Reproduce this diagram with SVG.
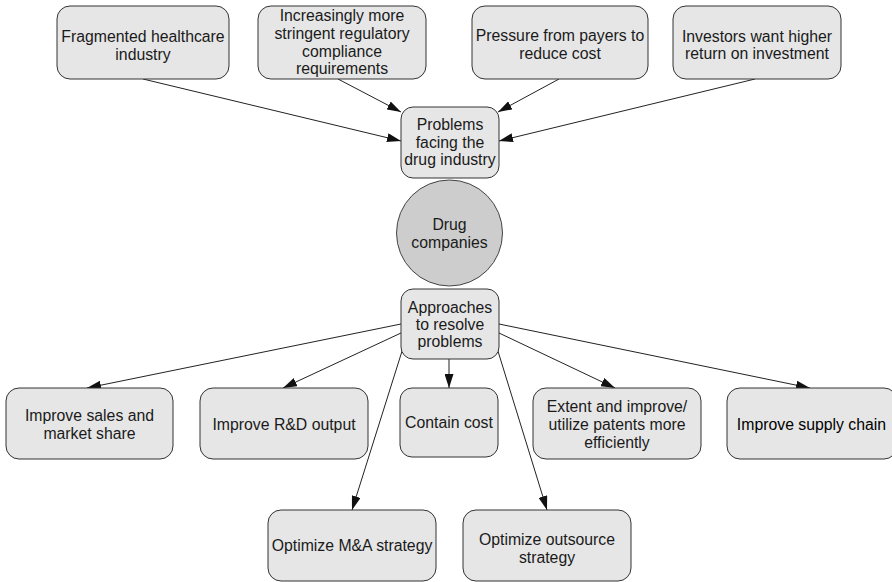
<svg xmlns="http://www.w3.org/2000/svg" width="892" height="582" viewBox="0 0 892 582">
  <defs>
    <marker id="arrow" viewBox="0 0 14 9" refX="14" refY="4.5" markerWidth="14" markerHeight="9" markerUnits="userSpaceOnUse" orient="auto">
      <path d="M0,0 L14,4.5 L0,9 Z" fill="#111"/>
    </marker>
    <style>
      .box { fill: #e6e6e6; stroke: #333; stroke-width: 1; }
      .hub { fill: #cdcdcd; stroke: #444; stroke-width: 1; }
      .lbl { font-family: "Liberation Sans", Arial, sans-serif; font-size: 15.8px; fill: #1a1a1a; text-anchor: middle; }
      .edge { fill: none; stroke: #222; stroke-width: 1; marker-end: url(#arrow); }
    </style>
  </defs>
  <rect width="892" height="582" fill="#ffffff"/>

  <!-- connectors -->
  <g id="connectors">
    <path class="edge" d="M143,79 L401,141"/>
    <path class="edge" d="M338,79 L401,112"/>
    <path class="edge" d="M559,79 L498,112"/>
    <path class="edge" d="M755,79 L499,141"/>
    <path class="edge" d="M401,324 L87,388"/>
    <path class="edge" d="M401,333 L283,388"/>
    <path class="edge" d="M403,348 L352,510"/>
    <path class="edge" d="M449,359 L449,388"/>
    <path class="edge" d="M497,348 L547,510"/>
    <path class="edge" d="M499,333 L615,388"/>
    <path class="edge" d="M499,324 L810,388"/>
  </g>

  <!-- cause nodes -->
  <g id="fragmented">
    <rect class="box" x="57" y="6" width="172" height="73" rx="13"/>
    <text class="lbl" x="143" y="41.5">Fragmented healthcare</text>
    <text class="lbl" x="143" y="60">industry</text>
  </g>
  <g id="regulatory">
    <rect class="box" x="258" y="6" width="168" height="73" rx="13"/>
    <text class="lbl" x="342" y="21">Increasingly more</text>
    <text class="lbl" x="342" y="38.5">stringent regulatory</text>
    <text class="lbl" x="342" y="56.5">compliance</text>
    <text class="lbl" x="342" y="73.5">requirements</text>
  </g>
  <g id="payers">
    <rect class="box" x="472" y="6" width="176" height="73" rx="13"/>
    <text class="lbl" x="560" y="40.5">Pressure from payers to</text>
    <text class="lbl" x="560" y="58.5">reduce cost</text>
  </g>
  <g id="investors">
    <rect class="box" x="673" y="6" width="168" height="73" rx="13"/>
    <text class="lbl" x="757" y="41.5">Investors want higher</text>
    <text class="lbl" x="757" y="59">return on investment</text>
  </g>

  <!-- central column -->
  <g id="problems">
    <rect class="box" x="401" y="107" width="98" height="71" rx="12"/>
    <text class="lbl" x="450" y="130">Problems</text>
    <text class="lbl" x="450" y="147.5">facing the</text>
    <text class="lbl" x="450" y="165">drug industry</text>
  </g>
  <g id="companies">
    <circle class="hub" cx="449.5" cy="233" r="53"/>
    <text class="lbl" x="449.5" y="230">Drug</text>
    <text class="lbl" x="449.5" y="247.5">companies</text>
  </g>
  <g id="approaches">
    <rect class="box" x="401" y="289" width="98" height="70" rx="12"/>
    <text class="lbl" x="450" y="313">Approaches</text>
    <text class="lbl" x="450" y="330">to resolve</text>
    <text class="lbl" x="450" y="347">problems</text>
  </g>

  <!-- approach nodes -->
  <g id="sales">
    <rect class="box" x="6" y="388" width="167" height="71" rx="13"/>
    <text class="lbl" x="89.5" y="421">Improve sales and</text>
    <text class="lbl" x="89.5" y="439">market share</text>
  </g>
  <g id="rnd">
    <rect class="box" x="200" y="388" width="168" height="71" rx="13"/>
    <text class="lbl" x="284" y="429.5">Improve R&amp;D output</text>
  </g>
  <g id="cost">
    <rect class="box" x="400" y="388" width="98" height="69" rx="12"/>
    <text class="lbl" x="449" y="427.5">Contain cost</text>
  </g>
  <g id="patents">
    <rect class="box" x="533" y="388" width="168" height="71" rx="13"/>
    <text class="lbl" x="617" y="412">Extent and improve/</text>
    <text class="lbl" x="617" y="430">utilize patents more</text>
    <text class="lbl" x="617" y="448">efficiently</text>
  </g>
  <g id="supply">
    <rect class="box" x="727" y="388" width="170" height="71" rx="13"/>
    <text class="lbl" x="811.5" y="429.5" style="fill:#000">Improve supply chain</text>
  </g>
  <g id="mna">
    <rect class="box" x="268" y="510" width="168" height="71" rx="13"/>
    <text class="lbl" x="352" y="551">Optimize M&amp;A strategy</text>
  </g>
  <g id="outsource">
    <rect class="box" x="463" y="510" width="168" height="71" rx="13"/>
    <text class="lbl" x="547" y="545">Optimize outsource</text>
    <text class="lbl" x="547" y="562.5">strategy</text>
  </g>
</svg>
